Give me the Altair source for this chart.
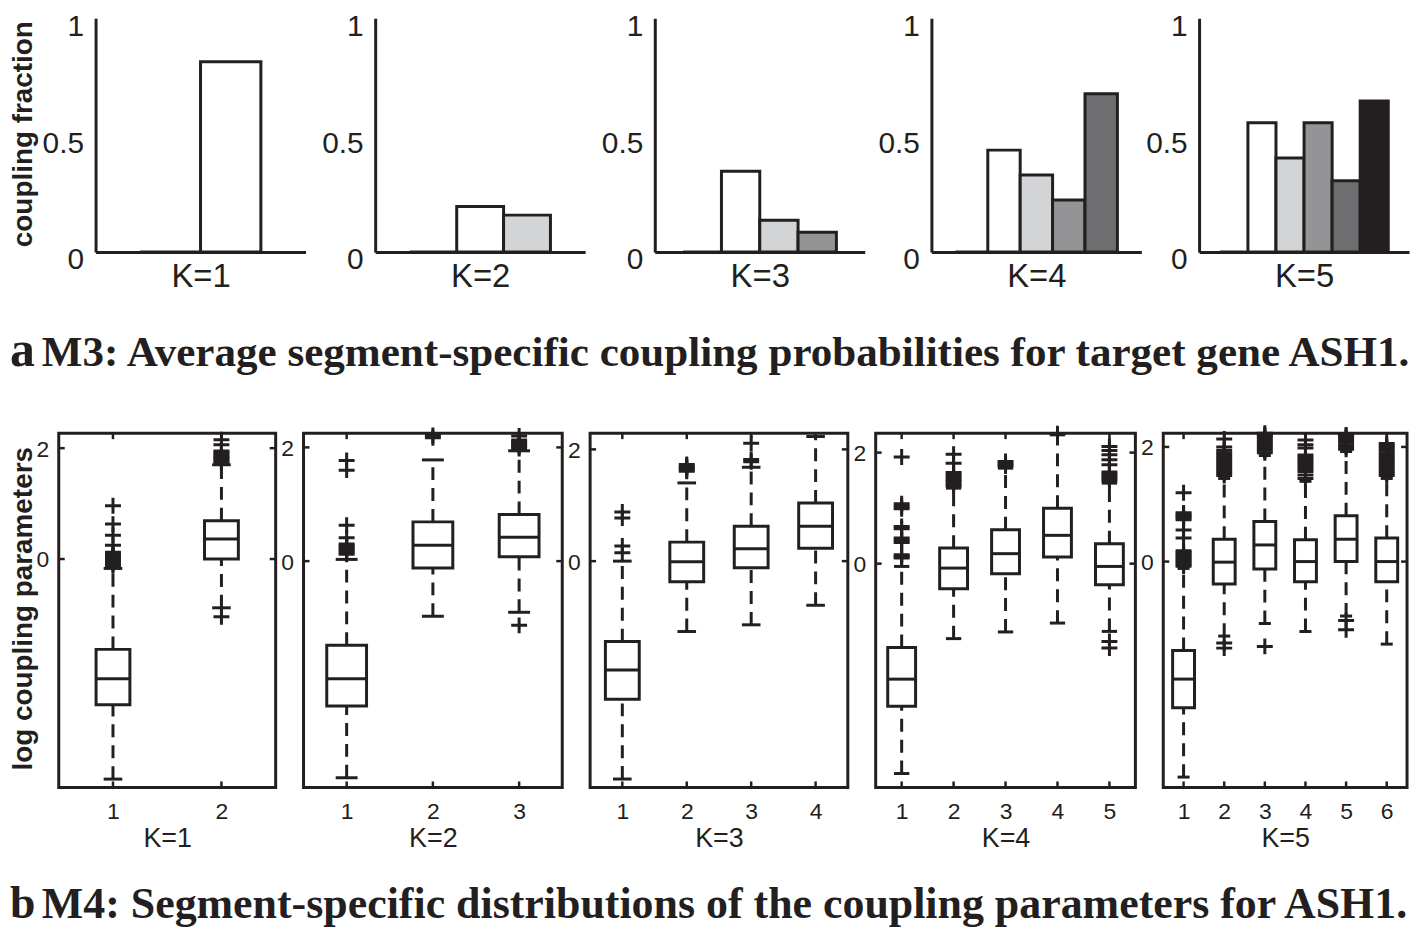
import altair as alt
import pandas as pd

INK = "#231f20"
SANS = "Liberation Sans"
SERIF = "Liberation Serif"

# ---------------- panel a: average segment-specific coupling fractions ----------------
K_names = ["K=1", "K=2", "K=3", "K=4", "K=5"]
frac_K1 = [0.0, 0.814]
frac_K2 = [0.0, 0.195, 0.158]
frac_K3 = [0.0, 0.346, 0.136, 0.085]
frac_K4 = [0.0, 0.436, 0.330, 0.223, 0.677]
frac_K5 = [0.0, 0.553, 0.402, 0.553, 0.305, 0.646]
frac_ticks = [0, 0.5, 1]

# ---------------- panel b: box statistics of log coupling parameters ----------------
K1_q1 = [-2.63, 0.00]
K1_med = [-2.16, 0.36]
K1_q3 = [-1.63, 0.69]
K1_lo = [-3.97, -0.88]
K1_hi = [-0.17, 1.70]
K1_out = [
    [-0.12, -0.09, -0.06, -0.03, 0.0, 0.03, 0.06, 0.09, 0.12, 0.25, 0.43, 0.63, 0.96],
    [-1.04, 1.74, 1.77, 1.80, 1.83, 1.86, 1.89, 1.92, 1.95, 2.06, 2.15],
]

K2_q1 = [-2.55, -0.12, 0.075]
K2_med = [-2.07, 0.28, 0.42]
K2_q3 = [-1.48, 0.69, 0.82]
K2_lo = [-3.81, -0.97, -0.90]
K2_hi = [0.03, 1.78, 1.94]
K2_out = [
    [0.12, 0.15, 0.18, 0.21, 0.24, 0.27, 0.30, 0.41, 0.63, 1.60, 1.77],
    [2.17, 2.21],
    [-1.13, 1.98, 2.01, 2.04, 2.07, 2.10, 2.13, 2.20],
]

K3_q1 = [-2.47, -0.37, -0.12, 0.23]
K3_med = [-1.95, -0.01, 0.22, 0.625]
K3_q3 = [-1.44, 0.34, 0.625, 1.04]
K3_lo = [-3.90, -1.26, -1.14, -0.79]
K3_hi = [0.0, 1.40, 1.68, 2.23]
K3_out = [
    [0.15, 0.27, 0.77, 0.88],
    [1.61, 1.64, 1.67, 1.70, 1.73],
    [1.78, 1.82, 2.11],
    [],
]

K4_q1 = [-2.57, -0.45, -0.18, 0.12, -0.38]
K4_med = [-2.08, -0.08, 0.18, 0.51, -0.05]
K4_q3 = [-1.51, 0.28, 0.61, 1.00, 0.36]
K4_lo = [-3.78, -1.35, -1.23, -1.07, -1.22]
K4_hi = [-0.05, 1.36, 1.72, 2.32, 1.45]
K4_out = [
    [0.10, 0.13, 0.16, 0.38, 0.42, 0.46, 0.63, 0.67, 0.99, 1.03, 1.08, 1.92],
    [1.40, 1.44, 1.48, 1.52, 1.56, 1.60, 1.64, 1.81, 1.97],
    [1.76, 1.80, 1.84],
    [2.34],
    [-1.40, -1.52, 1.49, 1.53, 1.57, 1.61, 1.65, 1.78, 1.87, 1.96, 2.04, 2.11],
]

K5_q1 = [-2.55, -0.39, -0.13, -0.35, 0.00, -0.35]
K5_med = [-2.05, -0.01, 0.29, 0.00, 0.39, 0.00]
K5_q3 = [-1.55, 0.39, 0.70, 0.38, 0.80, 0.41]
K5_lo = [-3.76, -1.30, -1.08, -1.22, -0.95, -1.44]
K5_hi = [-0.12, 1.45, 1.85, 1.40, 1.92, 1.45]
K5_out = [
    [-0.08, -0.05, -0.02, 0.01, 0.04, 0.07, 0.10, 0.13, 0.16, 0.19, 0.41, 0.55,
     0.73, 0.76, 0.79, 0.82, 0.85, 1.20],
    [-1.42, -1.51, 1.50, 1.54, 1.58, 1.62, 1.66, 1.70, 1.74, 1.78, 1.82, 1.86,
     1.90, 1.94, 2.00, 2.14],
    [-1.48, 1.90, 1.94, 1.98, 2.02, 2.06, 2.10, 2.14, 2.18, 2.21, 2.24],
    [1.45, 1.51, 1.57, 1.62, 1.66, 1.70, 1.74, 1.78, 1.82, 1.86, 1.98, 2.04, 2.12],
    [-1.03, -1.19, 1.96, 2.00, 2.04, 2.08, 2.12, 2.16, 2.19, 2.21],
    [1.50, 1.54, 1.58, 1.62, 1.66, 1.70, 1.74, 1.78, 1.82, 1.86, 1.90, 1.94,
     1.98, 2.02, 2.06],
]
box_ticks = [0, 2]

caption_a_letter = "a"
caption_a_text = "M3: Average segment-specific coupling probabilities for target gene ASH1."
caption_b_letter = "b"
caption_b_text = "M4: Segment-specific distributions of the coupling parameters for ASH1."

# ---------------- styling / layout constants ----------------
GREYS = ["#ffffff", "#ffffff", "#d3d4d6", "#949496", "#6e6e71", "#231f20"]
TOP_W, TOP_H = 211, 235
TOP_GAPS = [37, 69.5, 69.5, 67, 58]          # blank width before each top panel
BOT_W = [218, 260, 259, 261, 245]
BOT_GAP = 28
BOT_H = 356
CAP_A_H, CAP_A_BASE = 115, 70.5
CAP_B_H, CAP_B_BASE = 70, 64
BOX_PX = [34, 40, 34, 28, 22]
BOT_YDOM = [[-4.12, 2.27], [-3.98, 2.25], [-4.05, 2.29], [-4.03, 2.35], [-3.94, 2.24]]
PLUS = "M-1,0L1,0M0,-1L0,1"


def blank(w, h):
    return alt.Chart(pd.DataFrame({"t": [0]})).mark_point(opacity=0, size=1).encode(
        x=alt.value(0), y=alt.value(1)).properties(width=w, height=h)


def vguide(y0, y1):
    # invisible vertical extent used only to make the row's layout box predictable
    return alt.Chart(pd.DataFrame({"t": [0]})).mark_rule(opacity=0, strokeWidth=1).encode(
        x=alt.value(1), y=alt.value(y0), y2=alt.value(y1))


def bar_panel(k, vals):
    df = pd.DataFrame({"seg": list(range(len(vals))), "frac": vals})
    df["shade"] = [GREYS[s] for s in df["seg"]]
    ykw = dict(values=frac_ticks, format="~g", ticks=False, grid=False,
               domainColor=INK, domainWidth=3, labelFont=SANS, labelFontSize=30,
               labelColor=INK, labelPadding=12, labelOffset=8, labelBaseline="middle")
    if k == 0:
        ykw.update(title="coupling fraction", titleX=-72, titleY=116, titleAngle=270,
                   titleAlign="center", titleBaseline="middle", titleFont=SANS,
                   titleFontSize=28, titleFontWeight="bold", titleColor=INK)
    else:
        ykw.update(title=None)
    xaxis = alt.Axis(title=K_names[k], labels=False, ticks=False, grid=False,
                     domainColor=INK, domainWidth=3, titleX=TOP_W / 2, titleY=25,
                     titleAlign="center", titleBaseline="middle", titleFont=SANS,
                     titleFontSize=33, titleFontWeight="normal", titleColor=INK)
    return alt.Chart(df).mark_bar(stroke=INK, strokeWidth=3).encode(
        x=alt.X("seg:O", scale=alt.Scale(paddingInner=0, paddingOuter=0.74), axis=xaxis),
        y=alt.Y("frac:Q", scale=alt.Scale(domain=[0, 1], nice=False), axis=alt.Axis(**ykw)),
        fill=alt.Fill("shade:N", scale=None),
    ).properties(width=TOP_W, height=TOP_H)


def box_panel(k, q1, med, q3, lo, hi, outs):
    n = len(q1)
    width = BOT_W[k]
    ydom = BOT_YDOM[k]
    pos = list(range(1, n + 1))
    step = width / n
    half = BOX_PX[k] / 2 / step
    cap = half * 0.55
    st = pd.DataFrame({"pos": pos, "q1": q1, "med": med, "q3": q3, "lo": lo, "hi": hi})
    st["xl"] = st["pos"] - half
    st["xr"] = st["pos"] + half
    st["cl"] = st["pos"] - cap
    st["cr"] = st["pos"] + cap
    op, ov = [], []
    for i, vs in enumerate(outs):
        for v in vs:
            op.append(i + 1)
            ov.append(v)
    od = pd.DataFrame({"pos": op, "val": ov})
    td = pd.DataFrame({"t": box_ticks})

    xs = alt.Scale(domain=[0.5, n + 0.5], nice=False, zero=False)
    ys = alt.Scale(domain=ydom, nice=False, zero=False)
    xaxis = alt.Axis(values=pos, format="d", ticks=False, domain=False, grid=False,
                     labelFont=SANS, labelFontSize=23, labelColor=INK, labelPadding=24,
                     labelBaseline="middle", labelFlush=False,
                     title=K_names[k], titleX=width / 2, titleY=51,
                     titleAlign="center", titleBaseline="middle", titleFont=SANS,
                     titleFontSize=27, titleFontWeight="normal", titleColor=INK)
    ykw = dict(values=box_ticks, format="d", ticks=False, domain=False, grid=False,
               labelFont=SANS, labelFontSize=23, labelColor=INK, labelPadding=10,
               labelBaseline="middle", labelOffset=1)
    if k == 0:
        ykw.update(title="log coupling parameters", titleX=-35, titleY=176, titleAngle=270,
                   titleAlign="center", titleBaseline="middle", titleFont=SANS,
                   titleFontSize=28, titleFontWeight="bold", titleColor=INK)
    else:
        ykw.update(title=None)
    yaxis = alt.Axis(**ykw)

    def X(f):
        return alt.X(f, scale=xs, axis=xaxis)

    def Y(f):
        return alt.Y(f, scale=ys, axis=yaxis)

    dash = [13, 8]
    w_hi = alt.Chart(st).mark_rule(color=INK, strokeWidth=3, strokeDash=dash).encode(
        x=X("pos:Q"), y=Y("q3:Q"), y2="hi:Q")
    w_lo = alt.Chart(st).mark_rule(color=INK, strokeWidth=3, strokeDash=dash).encode(
        x=X("pos:Q"), y=Y("lo:Q"), y2="q1:Q")
    box = alt.Chart(st).mark_rect(fill="white", stroke=INK, strokeWidth=3).encode(
        x=X("xl:Q"), x2="xr:Q", y=Y("q1:Q"), y2="q3:Q")
    medl = alt.Chart(st).mark_rule(color=INK, strokeWidth=3).encode(
        x=X("xl:Q"), x2="xr:Q", y=Y("med:Q"))
    cap_hi = alt.Chart(st).mark_rule(color=INK, strokeWidth=3).encode(
        x=X("cl:Q"), x2="cr:Q", y=Y("hi:Q"))
    cap_lo = alt.Chart(st).mark_rule(color=INK, strokeWidth=3).encode(
        x=X("cl:Q"), x2="cr:Q", y=Y("lo:Q"))
    pts = alt.Chart(od).mark_point(shape=PLUS, size=256, filled=False, color=INK,
                                   strokeWidth=3, opacity=1).encode(
        x=X("pos:Q"), y=Y("val:Q"))
    t_left = alt.Chart(td).mark_rule(color=INK, strokeWidth=2.5, x2Offset=6).encode(
        x=alt.XDatum(0.5, scale=xs, axis=xaxis), x2=alt.datum(0.5), y=Y("t:Q"))
    t_right = alt.Chart(td).mark_rule(color=INK, strokeWidth=2.5, x2Offset=-6).encode(
        x=alt.XDatum(n + 0.5, scale=xs, axis=xaxis), x2=alt.datum(n + 0.5), y=Y("t:Q"))
    t_bot = alt.Chart(st).mark_rule(color=INK, strokeWidth=2.5, y2Offset=-6).encode(
        x=X("pos:Q"), y=alt.YDatum(ydom[0], scale=ys, axis=yaxis), y2=alt.datum(ydom[0]))
    t_top = alt.Chart(st).mark_rule(color=INK, strokeWidth=2.5, y2Offset=6).encode(
        x=X("pos:Q"), y=alt.YDatum(ydom[1], scale=ys, axis=yaxis), y2=alt.datum(ydom[1]))
    layers = [w_hi, w_lo, box, medl, cap_hi, cap_lo, pts, t_left, t_right, t_bot, t_top]
    if k == 0:
        layers.append(vguide(-20, 0))
    return alt.layer(*layers).properties(
        width=width, height=BOT_H,
        view=alt.ViewBackground(stroke=INK, strokeWidth=3))


def caption(letter, text, size, height, base_y, letter_size):
    l1 = alt.Chart(pd.DataFrame({"t": [letter]})).mark_text(
        font=SERIF, fontSize=letter_size, fontWeight="bold", color=INK, align="left",
        baseline="alphabetic").encode(text="t:N", x=alt.value(-49), y=alt.value(base_y))
    l2 = alt.Chart(pd.DataFrame({"t": [text]})).mark_text(
        font=SERIF, fontSize=size, fontWeight="bold", color=INK, align="left",
        baseline="alphabetic").encode(text="t:N", x=alt.value(-17), y=alt.value(base_y))
    return alt.layer(l1, l2, vguide(0, height)).properties(width=1300, height=height)


# ---- row 1: spacers + bar panels
fracs = [frac_K1, frac_K2, frac_K3, frac_K4, frac_K5]
row1 = []
for i, v in enumerate(fracs):
    row1.append(blank(TOP_GAPS[i], TOP_H))
    row1.append(bar_panel(i, v))
top_row = alt.hconcat(*row1, spacing=0, bounds="flush")

# ---- row 3: box panels
stats = [
    (K1_q1, K1_med, K1_q3, K1_lo, K1_hi, K1_out),
    (K2_q1, K2_med, K2_q3, K2_lo, K2_hi, K2_out),
    (K3_q1, K3_med, K3_q3, K3_lo, K3_hi, K3_out),
    (K4_q1, K4_med, K4_q3, K4_lo, K4_hi, K4_out),
    (K5_q1, K5_med, K5_q3, K5_lo, K5_hi, K5_out),
]
bot_row = alt.hconcat(*[box_panel(i, *s) for i, s in enumerate(stats)],
                      spacing=BOT_GAP, bounds="flush")

capA = caption(caption_a_letter, caption_a_text, 43.3, CAP_A_H, CAP_A_BASE, 50)
capB = caption(caption_b_letter, caption_b_text, 44.1, CAP_B_H, CAP_B_BASE, 46)

chart = alt.vconcat(top_row, capA, bot_row, capB, spacing=0).configure_view(
    stroke="transparent").properties(
    padding={"left": 0, "top": 0, "right": 0, "bottom": 0}, background="white")

chart.save("out.html", embed_options={"renderer": "svg", "actions": False})
